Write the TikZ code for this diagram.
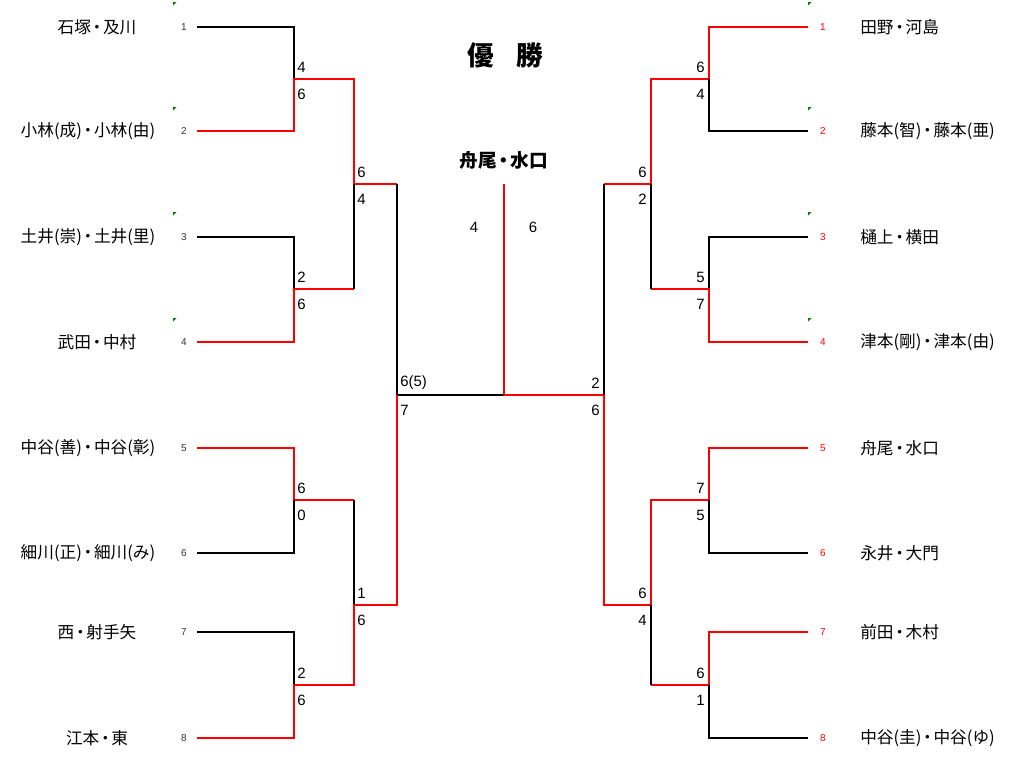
\documentclass[tikz,border=0pt]{standalone}
\usepackage{fontspec}
\setmainfont{Noto Sans CJK JP}
\newfontfamily\lat{Liberation Sans}
\usetikzlibrary{calc}
\definecolor{wred}{HTML}{FF0000}
\definecolor{markgreen}{HTML}{008000}
\newcommand{\dt}{\makebox[0.72em]{・}}
\tikzset{
  winline/.style={line width=1.5pt,wred,line join=miter},
  loseline/.style={line width=1.5pt,black,line join=miter},
  nmbox/.style={inner sep=0pt,font=\fontsize{12.5}{14}\selectfont},
  nmright/.style={nmbox,anchor=west},
  scorebox/.style={inner sep=0pt,font=\lat\fontsize{11.2}{13}\selectfont},
  seedbox/.style={inner sep=0pt,font=\lat\fontsize{7.5}{9}\selectfont,text=black!80},
  seedred/.style={seedbox,text=wred},
  cmark/.style={fill=markgreen,draw=none}
}
\begin{document}
\begin{tikzpicture}[x=0.75pt,y=-0.75pt]
\useasboundingbox[fill=white] (0,0) rectangle (1024,765);
% ---- coordinates left
\coordinate (a1) at (197,27);  \coordinate (a2) at (197,131);
\coordinate (a3) at (197,237); \coordinate (a4) at (197,342);
\coordinate (a5) at (197,448); \coordinate (a6) at (197,553);
\coordinate (a7) at (197,632); \coordinate (a8) at (197,738);
\coordinate (j12) at (294,79);  \coordinate (j34) at (294,289);
\coordinate (j56) at (294,500); \coordinate (j78) at (294,685);
\coordinate (k14) at (354,184); \coordinate (k58) at (354,605);
\coordinate (s) at (397,395);
\coordinate (c) at (504,395); \coordinate (ctop) at (504,184);
% ---- coordinates right
\coordinate (b1) at (808,27);  \coordinate (b2) at (808,131);
\coordinate (b3) at (808,237); \coordinate (b4) at (808,342);
\coordinate (b5) at (808,448); \coordinate (b6) at (808,553);
\coordinate (b7) at (808,632); \coordinate (b8) at (808,738);
\coordinate (m12) at (709,79);  \coordinate (m34) at (709,289);
\coordinate (m56) at (709,500); \coordinate (m78) at (709,685);
\coordinate (n14) at (651,184); \coordinate (n58) at (651,605);
\coordinate (t) at (604,395);
% ---- left bracket
\draw[loseline] (a1) -| (j12);
\draw[winline] (a2) -| (j12) -| (k14) -- (k14 -| s);
\draw[loseline] (a3) -| (j34);
\draw[winline] (a4) -| (j34) -- (j34 -| k14);
\draw[loseline] (j34 -| k14) -- (k14);
\draw[loseline] (k14 -| s) -- (s) -- (c);
\draw[winline] (a5) -| (j56) -- (j56 -| k58);
\draw[loseline] (a6) -| (j56);
\draw[loseline] (j56 -| k58) -- (k58);
\draw[loseline] (a7) -| (j78);
\draw[winline] (a8) -| (j78) -| (k58) -- (k58 -| s) -- (s);
% ---- center
\draw[winline] (c) -- (ctop);
\draw[winline] (c) -- (t);
% ---- right bracket
\draw[winline] (b1) -| (m12) -| (n14) -- (n14 -| t);
\draw[loseline] (b2) -| (m12);
\draw[loseline] (b3) -| (m34);
\draw[winline] (b4) -| (m34) -- (m34 -| n14);
\draw[loseline] (m34 -| n14) -- (n14);
\draw[loseline] (n14 -| t) -- (t);
\draw[winline] (b5) -| (m56) -| (n58) -- (n58 -| t) -- (t);
\draw[loseline] (b6) -| (m56);
\draw[winline] (b7) -| (m78) -- (m78 -| n58);
\draw[loseline] (b8) -| (m78);
\draw[loseline] (m78 -| n58) -- (n58);
% ---- left names
\node[nmbox] (p1) at (97,27) {石塚\dt 及川};
\node[nmbox] (p2) at (88,131) {小林(成)\dt 小林(由)};
\node[nmbox] (p3) at (88,237) {土井(崇)\dt 土井(里)};
\node[nmbox] (p4) at (97,342) {武田\dt 中村};
\node[nmbox] (p5) at (88,448) {中谷(善)\dt 中谷(彰)};
\node[nmbox] (p6) at (88,553) {細川(正)\dt 細川(み)};
\node[nmbox] (p7) at (97,632) {西\dt 射手矢};
\node[nmbox] (p8) at (97,738) {江本\dt 東};
% ---- right names
\node[nmright] (q1) at (860,27) {田野\dt 河島};
\node[nmright] (q2) at (860,131) {藤本(智)\dt 藤本(亜)};
\node[nmright] (q3) at (860,237) {樋上\dt 横田};
\node[nmright] (q4) at (860,342) {津本(剛)\dt 津本(由)};
\node[nmright] (q5) at (860,448) {舟尾\dt 水口};
\node[nmright] (q6) at (860,553) {永井\dt 大門};
\node[nmright] (q7) at (860,632) {前田\dt 木村};
\node[nmright] (q8) at (860,738) {中谷(圭)\dt 中谷(ゆ)};
% ---- seeds
\foreach \i/\y in {1/27,2/131,3/237,4/342,5/448,6/553,7/632,8/738}{
  \node[seedbox] (ls\i) at (184,\y) {\i};
  \node[seedred] (rs\i) at (823,\y) {\i};
}
% ---- comment marks
\foreach \x/\y in {173/2,173/107,173/212,173/318,808/2,808/107,808/212,808/318}{
  \fill[cmark] (\x,\y) -- ++(3.5,0) -- ++(-3.5,3.5) -- cycle;
}
% ---- left scores
\node[scorebox,anchor=west] (s1a) at ([shift={(3,-12)}]j12) {4};
\node[scorebox,anchor=west] (s1b) at ([shift={(3,15)}]j12) {6};
\node[scorebox,anchor=west] (s2a) at ([shift={(3,-12)}]j34) {2};
\node[scorebox,anchor=west] (s2b) at ([shift={(3,15)}]j34) {6};
\node[scorebox,anchor=west] (s3a) at ([shift={(3,-12)}]k14) {6};
\node[scorebox,anchor=west] (s3b) at ([shift={(3,15)}]k14) {4};
\node[scorebox,anchor=west] (s4a) at ([shift={(3,-12)}]j56) {6};
\node[scorebox,anchor=west] (s4b) at ([shift={(3,15)}]j56) {0};
\node[scorebox,anchor=west] (s5a) at ([shift={(3,-12)}]j78) {2};
\node[scorebox,anchor=west] (s5b) at ([shift={(3,15)}]j78) {6};
\node[scorebox,anchor=west] (s6a) at ([shift={(3,-12)}]k58) {1};
\node[scorebox,anchor=west] (s6b) at ([shift={(3,15)}]k58) {6};
\node[scorebox,anchor=west] (s7a) at ([shift={(3,-12)}]s) {6(5)};
\node[scorebox,anchor=west] (s7b) at ([shift={(3,15)}]s) {7};
% ---- right scores
\node[scorebox,anchor=east] (r1a) at ([shift={(-4,-12)}]m12) {6};
\node[scorebox,anchor=east] (r1b) at ([shift={(-4,15)}]m12) {4};
\node[scorebox,anchor=east] (r2a) at ([shift={(-4,-12)}]m34) {5};
\node[scorebox,anchor=east] (r2b) at ([shift={(-4,15)}]m34) {7};
\node[scorebox,anchor=east] (r3a) at ([shift={(-4,-12)}]n14) {6};
\node[scorebox,anchor=east] (r3b) at ([shift={(-4,15)}]n14) {2};
\node[scorebox,anchor=east] (r4a) at ([shift={(-4,-12)}]m56) {7};
\node[scorebox,anchor=east] (r4b) at ([shift={(-4,15)}]m56) {5};
\node[scorebox,anchor=east] (r5a) at ([shift={(-4,-12)}]m78) {6};
\node[scorebox,anchor=east] (r5b) at ([shift={(-4,15)}]m78) {1};
\node[scorebox,anchor=east] (r6a) at ([shift={(-4,-12)}]n58) {6};
\node[scorebox,anchor=east] (r6b) at ([shift={(-4,15)}]n58) {4};
\node[scorebox,anchor=east] (r7a) at ([shift={(-4,-12)}]t) {2};
\node[scorebox,anchor=east] (r7b) at ([shift={(-4,15)}]t) {6};
% ---- final
\node[scorebox] (fl) at (474,227) {4};
\node[scorebox] (fr) at (533,227) {6};
\node[inner sep=0pt,font=\bfseries\fontsize{14}{16}\selectfont] (champ) at (504,160) {舟尾\dt 水口};
\node[inner sep=0pt,font=\bfseries\fontsize{20}{22}\selectfont] (title) at (505,55) {優\hspace{0.85em}勝};
\end{tikzpicture}
\end{document}
